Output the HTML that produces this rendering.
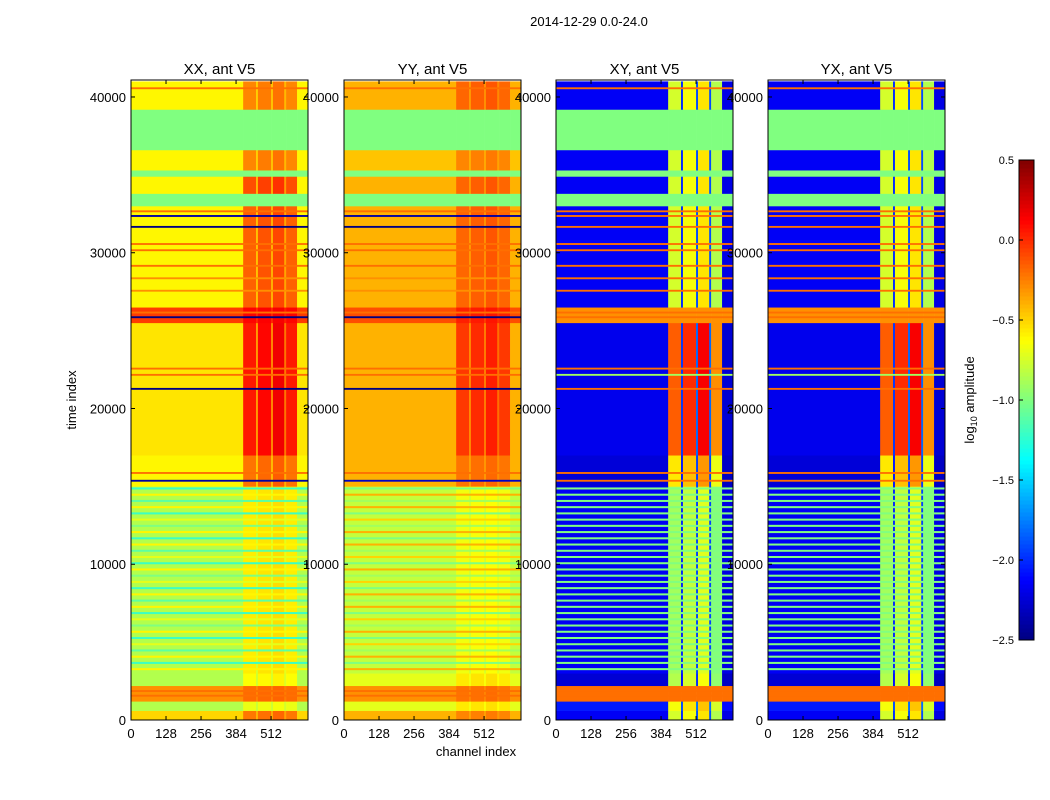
<!DOCTYPE html>
<html><head><meta charset="utf-8"><style>
body{margin:0;background:#fff;}
svg{display:block;font-family:"Liberation Sans",sans-serif;}
</style></head><body>
<svg id="fig" width="1050" height="800">
<text x="589" y="26" font-size="13" text-anchor="middle">2014-12-29 0.0-24.0</text>
<text x="476" y="756" font-size="13" text-anchor="middle">channel index</text>
<text transform="translate(76,400) rotate(-90)" font-size="13" text-anchor="middle">time index</text>
<text transform="translate(974,400) rotate(-90)" font-size="13" text-anchor="middle">log<tspan font-size="9" dy="3">10</tspan><tspan dy="-3"> amplitude</tspan></text>
<g id="panels"></g><g id="labels"></g><g id="cbar"></g>
</svg>
<script>
// ---- data ----
const panelTitles=["XX, ant V5","YY, ant V5","XY, ant V5","YX, ant V5"];
const xTicks=[0,128,256,384,512];
const yTicks=[0,10000,20000,30000,40000];
const cbTicks=[0.5,0.0,-0.5,-1.0,-1.5,-2.0,-2.5];
const chanEdges=[0,410,457,464,512,519,560,567,607,647];
const bandEdges=[0,600,1200,2200,3000,15000,17000,25500,26500,33000,33800,34900,35300,36600,39200,41000];
const baseXX=[-0.5,-0.85,-0.3,-0.85,-0.85,-0.6,-0.55,-0.05,-0.6,-1.0,-0.6,-1.0,-0.6,-1.0,-0.6];
const baseYY=[-0.4,-0.7,-0.3,-0.7,-0.8,-0.4,-0.4,-0.1,-0.4,-1.0,-0.4,-1.0,-0.45,-1.0,-0.4];
const baseXY=[-2.2,-2.1,-0.2,-2.3,-2.2,-2.3,-2.25,-0.3,-2.2,-1.0,-2.2,-1.0,-2.2,-1.0,-2.2];
const baseYX=[-2.2,-2.1,-0.2,-2.3,-2.2,-2.3,-2.25,-0.3,-2.2,-1.0,-2.2,-1.0,-2.2,-1.0,-2.2];
const hotXX=[0.5,0.3,0.2,0.4,0.5,0.7,1.1,0.3,0.8,0,0.9,0,0.6,0,0.6];
const hotYY=[0.3,0.3,0.2,0.3,0.3,0.4,0.8,0.3,0.5,0,0.5,0,0.4,0,0.5];
const hotXY=[1,1,0,1,0.9,1.2,1.45,0,1,0,1,0,1,0,1];
const hotYX=[1,1,0,1,0.9,1.2,1.45,0,1,0,1,0,1,0,1];
const offXX=[0.0,0.55,0.2,0.6,0.25,0.65,0.3,0.55,0.0];
const offYY=[0.0,0.45,0.15,0.5,0.2,0.55,0.25,0.45,0.0];
const offXY=[0.05,1.45,0.2,1.55,0.3,1.65,0.3,1.35,0.0];
const offYX=[0.05,1.45,0.2,1.55,0.3,1.65,0.3,1.35,0.0];
const stripeT=[1500,1800,15300,15800,21200,22100,22500,25800,26100,27500,28300,29100,30100,30500,31600,32300,32600,40500];
const stripeXX=[-0.2,-0.2,-2.4,-0.2,-2.6,-0.2,-0.2,-2.6,-0.2,-0.3,-0.3,-0.2,-0.2,-0.2,-2.6,-2.4,-0.2,-0.2];
const stripeYY=[-0.2,-0.2,-2.3,-0.2,-2.6,-0.2,-0.2,-2.6,-0.2,-0.3,-0.3,-0.2,-0.2,-0.2,-2.6,-2.4,-0.2,-0.2];
const stripeXY=[-0.2,-0.2,-0.2,-0.2,-0.2,-0.9,-0.2,-0.2,-0.2,-0.2,-0.2,-0.2,-0.2,-0.2,-0.2,-0.2,-0.2,-0.2];
const stripeYX=[-0.2,-0.2,-0.2,-0.2,-0.2,-0.9,-0.2,-0.2,-0.2,-0.2,-0.2,-0.2,-0.2,-0.2,-0.2,-0.2,-0.2,-0.2];
const denseT=[3200,3600,4000,4400,4800,5200,5600,6000,6400,6800,7200,7600,8000,8400,8800,9200,9600,10000,10400,10800,11200,11600,12000,12400,12800,13200,13600,14000,14400,14800];
const denseXX=[-0.6,-1.2,-0.6,-1.1,-0.7,-1.2,-0.6,-1.0,-0.7,-1.2,-0.6,-1.1,-0.6,-1.2,-0.7,-1.0,-0.6,-1.2,-0.7,-1.1,-0.6,-1.2,-0.6,-1.0,-0.7,-1.2,-0.6,-1.1,-0.6,-1.2];
const denseYY=[-0.4,-1.0,-0.4,-0.9,-0.5,-1.0,-0.4,-0.9,-0.5,-1.0,-0.4,-0.9,-0.4,-1.0,-0.5,-0.9,-0.4,-1.0,-0.5,-0.9,-0.4,-1.0,-0.4,-0.9,-0.5,-1.0,-0.4,-0.9,-0.4,-1.0];
const denseXY=[-1.0,-1.0,-1.0,-1.0,-1.0,-1.0,-1.0,-1.0,-1.0,-1.0,-1.0,-1.0,-1.0,-1.0,-1.0,-1.0,-1.0,-1.0,-1.0,-1.0,-1.0,-1.0,-1.0,-1.0,-1.0,-1.0,-1.0,-1.0,-1.0,-1.0];
const denseYX=denseXY.slice();
const panels=[
 {x:131,base:baseXX,hot:hotXX,off:offXX,st:stripeXX,dn:denseXX},
 {x:344,base:baseYY,hot:hotYY,off:offYY,st:stripeYY,dn:denseYY},
 {x:556,base:baseXY,hot:hotXY,off:offXY,st:stripeXY,dn:denseXY},
 {x:768,base:baseYX,hot:hotYX,off:offYX,st:stripeYX,dn:denseYX}];
// ---- scales ----
const W=177,TOP=80,BOT=720,TMAX=41090,CMAX=647;
const ys=t=>BOT-(t/TMAX)*(BOT-TOP);
const xs=(x0,c)=>x0+c/CMAX*W;
function jet(v){let f=(v+2.5)/3;f=Math.max(0,Math.min(1,f));
 const cl=a=>Math.max(0,Math.min(1,a));
 const r=cl(1.5-Math.abs(4*f-3)),g=cl(1.5-Math.abs(4*f-2)),b=cl(1.5-Math.abs(4*f-1));
 return `rgb(${Math.round(r*255)},${Math.round(g*255)},${Math.round(b*255)})`;}
const NS="http://www.w3.org/2000/svg";
function mk(tag,attrs,parent){const e=document.createElementNS(NS,tag);for(const k in attrs)e.setAttribute(k,attrs[k]);parent.appendChild(e);return e;}
const L=document.getElementById('labels'),P=document.getElementById('panels'),C=document.getElementById('cbar');
panels.forEach((p,i)=>{
 const g=mk('g',{},P);
 
 
 for(let b=0;b<p.base.length;b++){
  for(let c=0;c<p.off.length;c++){
   const v=p.base[b]+p.off[c]*p.hot[b];
   const y1=ys(bandEdges[b+1]),y0=ys(bandEdges[b]);
   const r=mk('rect',{x:xs(p.x,chanEdges[c]),y:y1,width:xs(p.x,chanEdges[c+1])-xs(p.x,chanEdges[c])+0.3,height:y0-y1+0.3,fill:jet(v)},g);
   
   
  }}
 denseT.forEach((t,k)=>{const r=mk('rect',{x:p.x,y:ys(t+130),width:W,height:ys(t)-ys(t+130),fill:jet(p.dn[k])},g);
  
  });
 stripeT.forEach((t,k)=>{const r=mk('rect',{x:p.x,y:ys(t+120),width:W,height:ys(t)-ys(t+120),fill:jet(p.st[k])},g);
  
  });
 mk('rect',{x:p.x,y:TOP,width:W,height:BOT-TOP,fill:'none',stroke:'#000','stroke-width':1},g);
 xTicks.forEach(t=>{mk('line',{x1:xs(p.x,t),x2:xs(p.x,t),y1:BOT,y2:BOT-4,stroke:'#000'},g);mk('line',{x1:xs(p.x,t),x2:xs(p.x,t),y1:TOP,y2:TOP+4,stroke:'#000'},g);});
 yTicks.forEach(t=>{mk('line',{x1:p.x,x2:p.x+4,y1:ys(t),y2:ys(t),stroke:'#000'},g);mk('line',{x1:p.x+W,x2:p.x+W-4,y1:ys(t),y2:ys(t),stroke:'#000'},g);});
 yTicks.forEach(t=>{const e=mk('text',{x:p.x-5,y:ys(t)+5,'font-size':13,'text-anchor':'end'},L);e.textContent=t;
  
  });
 xTicks.forEach(t=>{const e=mk('text',{x:xs(p.x,t),y:738,'font-size':13,'text-anchor':'middle'},L);e.textContent=t;
  
  });
 const tt=mk('text',{x:p.x+W/2,y:74,'font-size':15,'text-anchor':'middle'},L);tt.textContent=panelTitles[i];
 
 
});
// colorbar
const cbTop=160,cbBot=640,cbX=1019,cbW=15;
const cy=v=>cbBot-(v+2.5)/3*(cbBot-cbTop);
for(let i=0;i<120;i++){const v0=-2.5+i*3/120,v1=v0+3/120;
 const r=mk('rect',{x:cbX,y:cy(v1),width:cbW,height:cy(v0)-cy(v1)+0.5,fill:jet(v0+1.5/120)},C);
 
 }
mk('rect',{x:cbX,y:cbTop,width:cbW,height:cbBot-cbTop,fill:'none',stroke:'#000'},C);
cbTicks.forEach(v=>{mk('line',{x1:cbX,x2:cbX+4,y1:cy(v),y2:cy(v),stroke:'#000'},C);
 const e=mk('text',{x:1014,y:cy(v)+4,'font-size':11,'text-anchor':'end'},C);e.textContent=v.toFixed(1).replace('-','\u2212');
 
 });
</script>
</body></html>
